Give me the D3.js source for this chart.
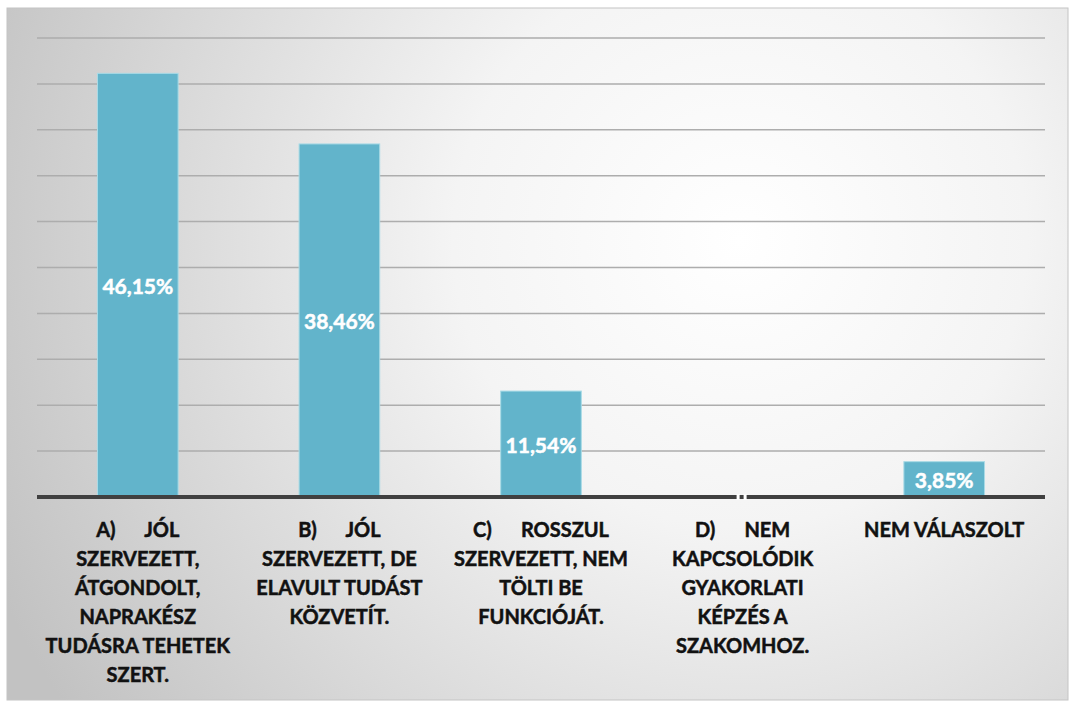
<!DOCTYPE html>
<html>
<head>
<meta charset="utf-8">
<script src="https://cdn.jsdelivr.net/npm/d3@7"></script>
<style>
  body { margin: 0; background: #fff; }
  svg { display: block; }
  .cat-label { font-family: Lato, "Open Sans", sans-serif; font-weight: bold; font-size: 20px; fill: #111; stroke: #111; stroke-width: 0.5px; white-space: pre; }
  .val-label { font-family: Lato, "Open Sans", sans-serif; font-weight: bold; font-size: 21px; fill: #fff; stroke: #fff; stroke-width: 0.5px; }
</style>
</head>
<body>
<div id="container"></div>
<script>
// data
const categories = ["A", "B", "C", "D", "E"];
const values = [46.15, 38.46, 11.54, 0, 3.85];
const valueLabels = ["46,15%", "38,46%", "11,54%", "", "3,85%"];
const tickLabels = [
  ["A)      JÓL", "SZERVEZETT,", "ÁTGONDOLT,", "NAPRAKÉSZ", "TUDÁSRA TEHETEK", "SZERT."],
  ["B)      JÓL", "SZERVEZETT, DE", "ELAVULT TUDÁST", "KÖZVETÍT."],
  ["C)      ROSSZUL", "SZERVEZETT, NEM", "TÖLTI BE", "FUNKCIÓJÁT."],
  ["D)      NEM", "KAPCSOLÓDIK", "GYAKORLATI", "KÉPZÉS A", "SZAKOMHOZ."],
  ["NEM VÁLASZOLT"]
];
const yTicks = [0, 5, 10, 15, 20, 25, 30, 35, 40, 45, 50];

const width = 1070, height = 702;
const plot = { left: 37, right: 1045, top: 38, bottom: 497 };

const svg = d3.select("#container").append("svg")
  .attr("width", width)
  .attr("height", height);

// background gradient
const defs = svg.append("defs");
const grad = defs.append("radialGradient")
  .attr("id", "bg")
  .attr("gradientUnits", "userSpaceOnUse")
  .attr("cx", 740).attr("cy", 240).attr("r", 820);
grad.append("stop").attr("offset", "0%").attr("stop-color", "#ffffff");
grad.append("stop").attr("offset", "35%").attr("stop-color", "#f4f4f4");
grad.append("stop").attr("offset", "100%").attr("stop-color", "#c2c2c2");

svg.append("rect")
  .attr("x", 7).attr("y", 8)
  .attr("width", 1061).attr("height", 692)
  .attr("fill", "url(#bg)")
  .attr("stroke", "#c4c4c4")
  .attr("stroke-width", 1);

const x = d3.scaleBand()
  .domain(categories)
  .range([plot.left, plot.right])
  .paddingInner(0.6)
  .paddingOuter(0.3);

const y = d3.scaleLinear()
  .domain([0, 50])
  .range([plot.bottom, plot.top]);

// gridlines
svg.append("g")
  .selectAll("line")
  .data(yTicks.slice(1))
  .join("line")
  .attr("x1", plot.left)
  .attr("x2", plot.right)
  .attr("y1", d => y(d))
  .attr("y2", d => y(d))
  .attr("stroke", "#adadad")
  .attr("stroke-width", 1.5);

// bars
svg.append("g")
  .selectAll("rect")
  .data(values)
  .join("rect")
  .attr("x", (d, i) => x(categories[i]))
  .attr("y", d => y(d))
  .attr("width", x.bandwidth())
  .attr("height", d => plot.bottom - y(d))
  .attr("fill", "#62b4cb")
  .attr("stroke", d => d > 0 ? "#a9dbe6" : "none")
  .attr("stroke-width", 1);

// baseline
svg.append("line")
  .attr("x1", plot.left)
  .attr("x2", plot.right)
  .attr("y1", y(0))
  .attr("y2", y(0))
  .attr("stroke", "#404040")
  .attr("stroke-width", 4);

// tiny marker for the zero bar
values.forEach((v, i) => {
  if (v !== 0) return;
  const cx = x(categories[i]) + x.bandwidth() / 2;
  svg.append("rect")
    .attr("x", cx - 6).attr("y", y(0) - 3)
    .attr("width", 3).attr("height", 6)
    .attr("fill", "#ffffff");
  svg.append("rect")
    .attr("x", cx + 1).attr("y", y(0) - 3)
    .attr("width", 3).attr("height", 6)
    .attr("fill", "#ffffff");
});

// value labels
svg.append("g")
  .selectAll("text")
  .data(values)
  .join("text")
  .attr("class", "val-label")
  .attr("x", (d, i) => x(categories[i]) + x.bandwidth() / 2)
  .attr("y", d => (y(d) + plot.bottom) / 2)
  .attr("text-anchor", "middle")
  .attr("dominant-baseline", "central")
  .text((d, i) => valueLabels[i]);

// category labels
const lineH = 29;
categories.forEach((c, i) => {
  const cx = x(c) + x.bandwidth() / 2;
  const t = svg.append("text")
    .attr("class", "cat-label")
    .attr("text-anchor", "middle")
    .attr("x", cx)
    .attr("y", 537);
  tickLabels[i].forEach((line, j) => {
    t.append("tspan")
      .attr("x", cx)
      .attr("dy", j === 0 ? 0 : lineH)
      .text(line);
  });
});
</script>
</body>
</html>
